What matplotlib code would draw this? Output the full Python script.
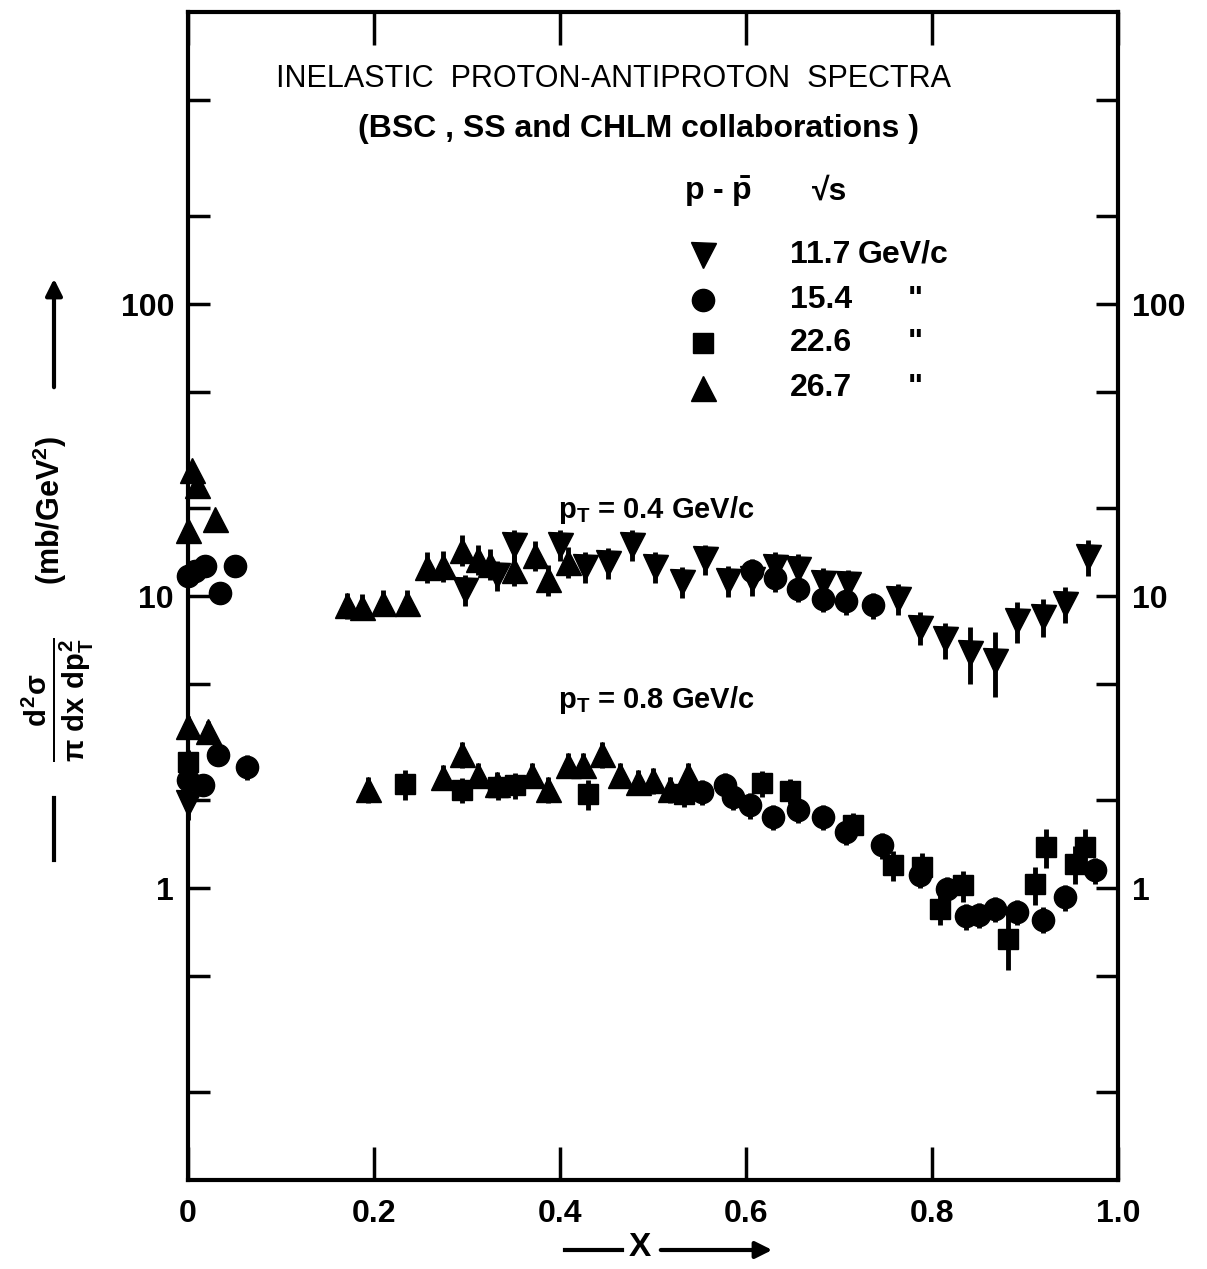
import numpy as np
import matplotlib
matplotlib.use("Agg")
import matplotlib.pyplot as plt
from matplotlib.ticker import FixedLocator, NullLocator, FixedFormatter

plt.rcParams['font.family'] = ['Liberation Sans', 'DejaVu Sans']
plt.rcParams['mathtext.fontset'] = 'custom'
plt.rcParams['mathtext.rm'] = 'Liberation Sans:bold'
plt.rcParams['mathtext.it'] = 'Liberation Sans:bold'
plt.rcParams['mathtext.bf'] = 'Liberation Sans:bold'

# --- data (x, d2sigma, relative error) ---
# sqrt(s) = 11.7 GeV (down triangles)
down_x = [0.298, 0.332, 0.350, 0.400, 0.427, 0.452, 0.477, 0.502, 0.531, 0.556,
          0.581, 0.606, 0.631, 0.656, 0.683, 0.710, 0.763, 0.787, 0.814, 0.841,
          0.868, 0.891, 0.919, 0.943, 0.968, 0.000]
down_y = [10.5, 11.8, 15.0, 15.0, 12.6, 13.0, 15.0, 12.6, 11.2, 13.4,
          11.3, 11.4, 12.6, 12.4, 11.1, 11.0, 9.8, 7.8, 7.1, 6.4,
          6.0, 8.2, 8.5, 9.4, 13.6, 1.95]
down_e = [0.12, 0.12, 0.12, 0.12, 0.12, 0.12, 0.12, 0.12, 0.12, 0.12,
          0.12, 0.12, 0.12, 0.12, 0.12, 0.12, 0.12, 0.13, 0.14, 0.22,
          0.25, 0.16, 0.15, 0.14, 0.14, 0.12]

# sqrt(s) = 15.4 GeV (circles)
circ_x = [0.000, 0.008, 0.018, 0.034, 0.050, 0.606, 0.631, 0.656, 0.683, 0.708,
          0.737,
          0.000, 0.016, 0.032, 0.063, 0.553, 0.577, 0.586, 0.604, 0.629,
          0.656, 0.683, 0.708, 0.746, 0.787, 0.816, 0.837, 0.850, 0.868,
          0.891, 0.919, 0.943, 0.975]
circ_y = [11.7, 12.2, 12.7, 10.2, 12.7, 12.2, 11.5, 10.6, 9.8, 9.6,
          9.3,
          2.35, 2.25, 2.85, 2.6, 2.13, 2.25, 2.05, 1.92, 1.75,
          1.85, 1.75, 1.56, 1.40, 1.11, 0.99, 0.80, 0.81, 0.85,
          0.83, 0.78, 0.93, 1.15]
circ_e = [0.06, 0.06, 0.06, 0.06, 0.06, 0.10, 0.10, 0.10, 0.10, 0.10,
          0.10,
          0.08, 0.08, 0.08, 0.10, 0.10, 0.10, 0.10, 0.10, 0.10,
          0.10, 0.10, 0.10, 0.10, 0.10, 0.10, 0.10, 0.10, 0.10,
          0.10, 0.10, 0.10, 0.10]

# sqrt(s) = 22.6 GeV (squares)
sq_x = [0.000, 0.233, 0.295, 0.333, 0.352, 0.430, 0.533, 0.617, 0.647, 0.715,
        0.758, 0.789, 0.809, 0.833, 0.882, 0.911, 0.923, 0.954, 0.965]
sq_y = [2.7, 2.27, 2.17, 2.22, 2.25, 2.10, 2.10, 2.28, 2.15, 1.64,
        1.20, 1.18, 0.85, 1.02, 0.67, 1.03, 1.38, 1.21, 1.38]
sq_e = [0.10, 0.12, 0.10, 0.10, 0.10, 0.12, 0.10, 0.10, 0.10, 0.10,
        0.12, 0.12, 0.12, 0.12, 0.22, 0.15, 0.15, 0.15, 0.15]

# sqrt(s) = 26.7 GeV (triangles)
tri_x = [0.000, 0.004, 0.010, 0.029, 0.171, 0.187, 0.210, 0.235, 0.257, 0.274,
         0.295, 0.312, 0.325, 0.350, 0.373, 0.387, 0.409,
         0.000, 0.022, 0.194, 0.274, 0.295, 0.312, 0.332, 0.370, 0.387,
         0.409, 0.425, 0.445, 0.465, 0.484, 0.500, 0.518, 0.538]
tri_y = [16.8, 27.0, 24.0, 18.4, 9.3, 9.2, 9.5, 9.5, 12.6, 12.7,
         14.4, 13.4, 12.9, 12.3, 13.8, 11.4, 13.1,
         3.6, 3.45, 2.18, 2.40, 2.87, 2.44, 2.27, 2.44, 2.18,
         2.64, 2.64, 2.87, 2.44, 2.31, 2.34, 2.18, 2.44]
tri_e = [0.06, 0.06, 0.06, 0.06, 0.10, 0.10, 0.10, 0.10, 0.12, 0.12,
         0.12, 0.12, 0.12, 0.12, 0.12, 0.12, 0.12,
         0.08, 0.08, 0.10, 0.10, 0.10, 0.10, 0.10, 0.10, 0.10,
         0.10, 0.10, 0.10, 0.10, 0.10, 0.10, 0.10, 0.10]

legend_energy = ["11.7", "15.4", "22.6", "26.7"]
x_ticks = [0, 0.2, 0.4, 0.6, 0.8, 1.0]
x_ticklabels = ["0", "0.2", "0.4", "0.6", "0.8", "1.0"]
y_major = [1, 10, 100]
y_minor = [0.2, 0.5, 2, 5, 20, 50, 200, 500]


def px_x(p):
    return p / 1207.0


def px_y(p):
    return 1 - p / 1269.0


def main():
    fig = plt.figure(figsize=(12.07, 12.69), dpi=100)
    ax = fig.add_axes([px_x(188), px_y(1180), px_x(1118 - 188), (1180 - 12) / 1269.0])
    ax.set_yscale('log')
    ax.set_xlim(0, 1.0)
    ax.set_ylim(0.1, 1000)

    series = [
        (down_x, down_y, down_e, 'v', 18),
        (circ_x, circ_y, circ_e, 'o', 16),
        (sq_x, sq_y, sq_e, 's', 15),
        (tri_x, tri_y, tri_e, '^', 18),
    ]
    for xs, ys, es, m, ms in series:
        ys = np.array(ys)
        err = ys * np.array(es)
        ax.errorbar(xs, ys, yerr=err, fmt=m, color='black', ms=ms,
                    elinewidth=3.5, capsize=0, clip_on=False, zorder=3)

    # axes styling
    for s in ax.spines.values():
        s.set_linewidth(3)
    ax.xaxis.set_major_locator(FixedLocator(x_ticks))
    ax.xaxis.set_major_formatter(FixedFormatter(x_ticklabels))
    ax.yaxis.set_major_locator(FixedLocator(y_major))
    ax.yaxis.set_major_formatter(FixedFormatter(["1", "10", "100"]))
    ax.yaxis.set_minor_locator(FixedLocator(y_minor))
    ax.xaxis.set_minor_locator(NullLocator())
    ax.tick_params(axis='x', which='major', direction='in', length=24, width=2.5,
                   top=True, labelsize=23, pad=14)
    ax.tick_params(axis='y', which='both', direction='in', length=16, width=2.5,
                   right=True, labelright=True, labelsize=23, pad=10)
    for lab in ax.get_xticklabels() + ax.get_yticklabels():
        lab.set_fontweight('bold')

    # title
    ax.text(0.457, 0.943, "INELASTIC  PROTON-ANTIPROTON  SPECTRA", transform=ax.transAxes,
            ha='center', va='center', fontsize=22)
    ax.text(0.484, 0.900, "(BSC , SS and CHLM collaborations )", transform=ax.transAxes,
            ha='center', va='center', fontsize=23, fontweight='bold')

    # legend
    ax.text(0.57, 0.846, r"p - $\mathrm{\bar{p}}$", transform=ax.transAxes,
            ha='center', va='center', fontsize=23, fontweight='bold')
    ax.text(0.69, 0.846, "\u221as", transform=ax.transAxes,
            ha='center', va='center', fontsize=23, fontweight='bold')
    leg_y = [0.792, 0.753, 0.717, 0.678]
    leg_m = [('v', 18), ('o', 16), ('s', 15), ('^', 18)]
    for i, (m, ms) in enumerate(leg_m):
        ax.plot([0.554], [leg_y[i]], m, color='black', ms=ms, transform=ax.transAxes,
                clip_on=False)
        ax.text(0.647, leg_y[i], legend_energy[i], transform=ax.transAxes,
                ha='left', va='center', fontsize=23, fontweight='bold')
        ax.text(0.72 if i == 0 else 0.782, leg_y[i], "GeV/c" if i == 0 else "\"",
                transform=ax.transAxes, ha='left' if i == 0 else 'center',
                va='center', fontsize=23, fontweight='bold')

    ax.text(0.398, 0.574, r"$\mathrm{p_T}$ = 0.4 GeV/c", transform=ax.transAxes,
            ha='left', va='center', fontsize=21, fontweight='bold')
    ax.text(0.398, 0.411, r"$\mathrm{p_T}$ = 0.8 GeV/c", transform=ax.transAxes,
            ha='left', va='center', fontsize=21, fontweight='bold')

    # y label pieces
    fig.text(px_x(50), px_y(510), r"(mb/GeV$^2$)", rotation=90, ha='center',
             va='center', fontsize=22, fontweight='bold')
    fig.text(px_x(58), px_y(700), r"$\frac{d^2\sigma}{\pi\ dx\ dp_T^2}$", rotation=90,
             ha='center', va='center', fontsize=30)
    ax.annotate('', xy=(px_x(54), px_y(276)), xytext=(px_x(54), px_y(390)),
                xycoords='figure fraction', textcoords='figure fraction',
                arrowprops=dict(arrowstyle='-|>', lw=3, color='black', mutation_scale=25))
    fig.add_artist(plt.Line2D([px_x(54), px_x(54)], [px_y(798), px_y(860)],
                              lw=3, color='black'))

    # x label
    fig.text(px_x(640), px_y(1248), "X", ha='center', va='center', fontsize=24,
             fontweight='bold')
    fig.add_artist(plt.Line2D([px_x(565), px_x(622)], [px_y(1250), px_y(1250)],
                              lw=3, color='black'))
    ax.annotate('', xy=(px_x(775), px_y(1250)), xytext=(px_x(658), px_y(1250)),
                xycoords='figure fraction', textcoords='figure fraction',
                arrowprops=dict(arrowstyle='-|>', lw=3, color='black', mutation_scale=25))

    fig.savefig("out.png", dpi=100)


if __name__ == "__main__":
    main()
